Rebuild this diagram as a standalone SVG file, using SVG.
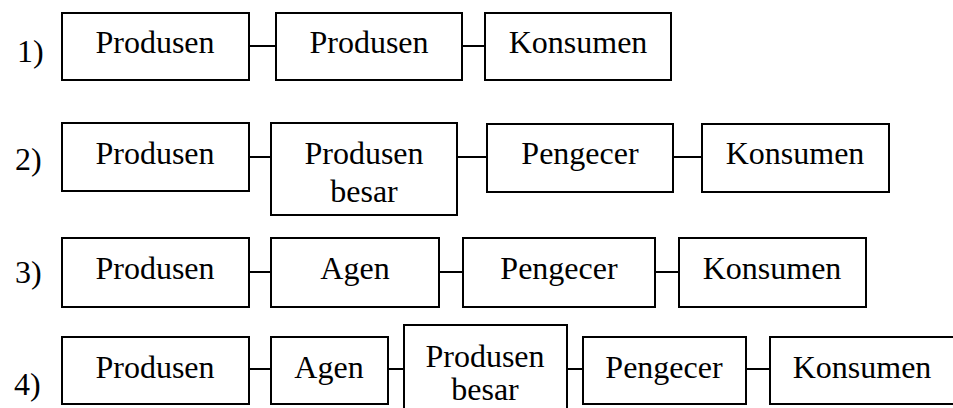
<svg xmlns="http://www.w3.org/2000/svg" width="953" height="408" viewBox="0 0 953 408">
<style>
rect{fill:#fff;stroke:#000;stroke-width:2}
line{stroke:#000;stroke-width:2}
text{font-family:'Liberation Serif','Times New Roman','DejaVu Serif',serif;font-size:32px;fill:#000}
.c{text-anchor:middle}
</style>
<rect x="0" y="0" width="953" height="408" style="stroke:none"/>
<g id="labels" font-family="Liberation Serif, serif">
<text x="17" y="62">1)</text>
<text x="15" y="170">2)</text>
<text x="15" y="283">3)</text>
<text x="14" y="395">4)</text>
</g>
<g id="connectors">
<line x1="249" y1="46" x2="276" y2="46"/>
<line x1="462" y1="46" x2="485" y2="46"/>
<line x1="249" y1="157" x2="271" y2="157"/>
<line x1="457" y1="157" x2="487" y2="157"/>
<line x1="673" y1="157" x2="702" y2="157"/>
<line x1="249" y1="272" x2="271" y2="272"/>
<line x1="439" y1="272" x2="463" y2="272"/>
<line x1="655" y1="272" x2="679" y2="272"/>
<line x1="249" y1="369" x2="271" y2="369"/>
<line x1="388" y1="369" x2="404" y2="369"/>
<line x1="567" y1="369" x2="583" y2="369"/>
<line x1="746" y1="369" x2="770" y2="369"/>
</g>
<g id="r1n1"><rect x="62" y="13" width="187" height="67"/><text class="c" x="155" y="53">Produsen</text></g>
<g id="r1n2"><rect x="276" y="13" width="186" height="67"/><text class="c" x="369" y="53">Produsen</text></g>
<g id="r1n3"><rect x="485" y="13" width="186" height="67"/><text class="c" x="578" y="53">Konsumen</text></g>
<g id="r2n1"><rect x="62" y="123" width="187" height="68"/><text class="c" x="155" y="164">Produsen</text></g>
<g id="r2n2"><rect x="271" y="123" width="186" height="92"/><text class="c" x="364" y="164">Produsen</text><text class="c" x="364" y="202">besar</text></g>
<g id="r2n3"><rect x="487" y="124" width="186" height="68"/><text class="c" x="580" y="164">Pengecer</text></g>
<g id="r2n4"><rect x="702" y="124" width="187" height="68"/><text class="c" x="795" y="164">Konsumen</text></g>
<g id="r3n1"><rect x="62" y="238" width="187" height="69"/><text class="c" x="155" y="279">Produsen</text></g>
<g id="r3n2"><rect x="271" y="238" width="168" height="69"/><text class="c" x="355" y="279">Agen</text></g>
<g id="r3n3"><rect x="463" y="238" width="192" height="69"/><text class="c" x="559" y="279">Pengecer</text></g>
<g id="r3n4"><rect x="679" y="238" width="187" height="69"/><text class="c" x="772" y="279">Konsumen</text></g>
<g id="r4n1"><rect x="62" y="337" width="187" height="67"/><text class="c" x="155" y="378">Produsen</text></g>
<g id="r4n2"><rect x="271" y="337" width="117" height="67"/><text class="c" x="329" y="378">Agen</text></g>
<g id="r4n3"><rect x="404" y="325" width="163" height="100"/><text class="c" x="485" y="367">Produsen</text><text class="c" x="485" y="400">besar</text></g>
<g id="r4n4"><rect x="583" y="337" width="163" height="67"/><text class="c" x="664" y="378">Pengecer</text></g>
<g id="r4n5"><rect x="770" y="337" width="200" height="67"/><text class="c" x="862" y="378">Konsumen</text></g>
</svg>
